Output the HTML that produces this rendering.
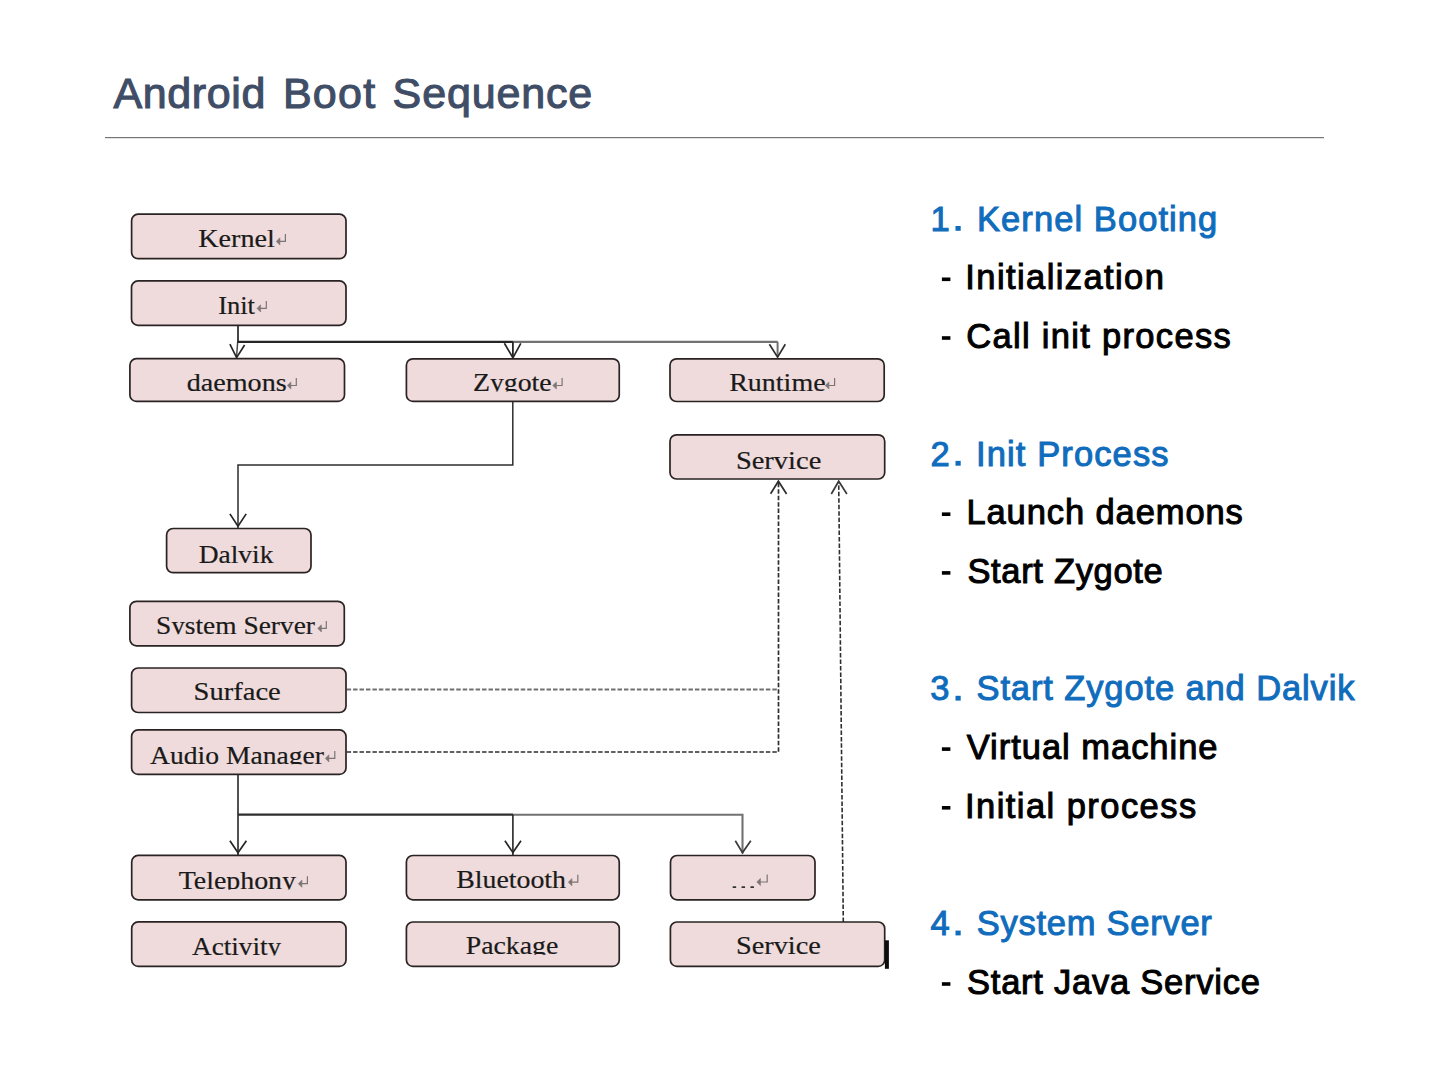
<!DOCTYPE html><html><head><meta charset="utf-8"><title>Android Boot Sequence</title>
<style>html,body{margin:0;padding:0;background:#fff;}body{width:1440px;height:1080px;overflow:hidden;}svg{display:block;}</style></head><body>
<svg width="1440" height="1080" viewBox="0 0 1440 1080">
<rect x="0" y="0" width="1440" height="1080" fill="#ffffff"/>
<text x="113.5" y="108.3" font-family="&quot;Liberation Sans&quot;, sans-serif" font-size="43" fill="#404D66" stroke="#404D66" stroke-width="1.1" textLength="151.8" lengthAdjust="spacing">Android</text>
<text x="282.9" y="108.3" font-family="&quot;Liberation Sans&quot;, sans-serif" font-size="43" fill="#404D66" stroke="#404D66" stroke-width="1.1" textLength="92.3" lengthAdjust="spacing">Boot</text>
<text x="392.6" y="108.3" font-family="&quot;Liberation Sans&quot;, sans-serif" font-size="43" fill="#404D66" stroke="#404D66" stroke-width="1.1" textLength="199.6" lengthAdjust="spacing">Sequence</text>
<rect x="105" y="137" width="1219" height="1.2" fill="#767676"/>
<defs>
<clipPath id="c_zygote"><rect x="0" y="0" width="1440" height="391.4"/></clipPath>
<clipPath id="c_sysserv"><rect x="0" y="0" width="1440" height="634.3"/></clipPath>
<clipPath id="c_audio"><rect x="0" y="0" width="1440" height="764.3"/></clipPath>
<clipPath id="c_tele"><rect x="0" y="0" width="1440" height="889.6"/></clipPath>
<clipPath id="c_activity"><rect x="0" y="0" width="1440" height="955.4"/></clipPath>
<clipPath id="c_package"><rect x="0" y="0" width="1440" height="954.8"/></clipPath>
</defs>
<path d="M238.0,325.3 L238.0,342.0" fill="none" stroke="#262626" stroke-width="1.7" stroke-linejoin="miter"/>
<path d="M237.7,342.0 L236.6,356.0" fill="none" stroke="#4a4a4a" stroke-width="1.5" stroke-linejoin="miter"/>
<path d="M237.2,341.9 L513.0,341.9" fill="none" stroke="#262626" stroke-width="2.3" stroke-linejoin="miter"/>
<path d="M513.0,341.9 L777.8,341.9" fill="none" stroke="#727272" stroke-width="2.2" stroke-linejoin="miter"/>
<path d="M512.9,341.9 L512.9,357.0" fill="none" stroke="#262626" stroke-width="1.8" stroke-linejoin="miter"/>
<path d="M777.6,341.9 L777.6,356.0" fill="none" stroke="#727272" stroke-width="2.0" stroke-linejoin="miter"/>
<path d="M229.9,344.2 L236.6,357.6 L244.6,345.0" fill="none" stroke="#262626" stroke-width="1.7" stroke-linejoin="miter"/>
<path d="M504.4,343.3 L512.9,357.8 L520.8,343.3" fill="none" stroke="#262626" stroke-width="1.7" stroke-linejoin="miter"/>
<path d="M769.4,344.2 L777.6,357.2 L785.3,344.2" fill="none" stroke="#303030" stroke-width="1.7" stroke-linejoin="miter"/>
<path d="M512.8,401.4 L512.8,465.0 L238.0,465.0 L238.0,528.5" fill="none" stroke="#2e2e2e" stroke-width="1.5" stroke-linejoin="miter"/>
<path d="M229.9,513.9 L238.0,526.2 L246.2,513.9" fill="none" stroke="#262626" stroke-width="1.7" stroke-linejoin="miter"/>
<path d="M238.0,774.4 L238.0,855.4" fill="none" stroke="#262626" stroke-width="1.6" stroke-linejoin="miter"/>
<path d="M238.0,814.7 L513.0,814.7" fill="none" stroke="#2e2e2e" stroke-width="2.3" stroke-linejoin="miter"/>
<path d="M513.0,814.7 L742.5,814.7 L742.5,853.5" fill="none" stroke="#727272" stroke-width="2.1" stroke-linejoin="miter"/>
<path d="M512.9,814.7 L512.9,855.5" fill="none" stroke="#262626" stroke-width="1.6" stroke-linejoin="miter"/>
<path d="M229.9,840.7 L238.0,852.8 L246.4,840.7" fill="none" stroke="#262626" stroke-width="1.7" stroke-linejoin="miter"/>
<path d="M504.9,840.7 L512.9,852.6 L521.0,840.7" fill="none" stroke="#262626" stroke-width="1.7" stroke-linejoin="miter"/>
<path d="M735.3,840.8 L742.5,852.6 L750.8,840.8" fill="none" stroke="#3a3a3a" stroke-width="1.7" stroke-linejoin="miter"/>
<path d="M346.6,689.5 L778.5,689.5" fill="none" stroke="#707070" stroke-width="1.9" stroke-linejoin="miter" stroke-dasharray="4.5 1.95"/>
<path d="M346.6,752.0 L778.5,752.0 L778.5,482.0" fill="none" stroke="#2e2e2e" stroke-width="1.7" stroke-linejoin="miter" stroke-dasharray="4.5 1.95"/>
<path d="M843.3,922.0 L838.7,482.0" fill="none" stroke="#2e2e2e" stroke-width="1.6" stroke-linejoin="miter" stroke-dasharray="4.5 1.95"/>
<path d="M770.6,493.8 L778.4,481.2 L786.6,494.0" fill="none" stroke="#2e2e2e" stroke-width="1.7" stroke-linejoin="miter"/>
<path d="M831.3,494.0 L838.7,481.2 L846.9,494.0" fill="none" stroke="#3a3a3a" stroke-width="1.7" stroke-linejoin="miter"/>
<rect x="131.60" y="214.20" width="214.40" height="44.50" rx="6.5" ry="6.5" fill="#EFDBDB" stroke="#2a2323" stroke-width="1.7"/>
<rect x="131.50" y="280.90" width="214.50" height="44.40" rx="6.5" ry="6.5" fill="#EFDBDB" stroke="#2a2323" stroke-width="1.7"/>
<rect x="129.90" y="358.70" width="214.60" height="42.70" rx="6.5" ry="6.5" fill="#EFDBDB" stroke="#2a2323" stroke-width="1.7"/>
<rect x="406.40" y="358.80" width="212.85" height="42.60" rx="6.5" ry="6.5" fill="#EFDBDB" stroke="#2a2323" stroke-width="1.7"/>
<rect x="670.00" y="358.80" width="214.20" height="42.70" rx="6.5" ry="6.5" fill="#EFDBDB" stroke="#2a2323" stroke-width="1.7"/>
<rect x="670.00" y="434.80" width="214.70" height="44.20" rx="6.5" ry="6.5" fill="#EFDBDB" stroke="#2a2323" stroke-width="1.7"/>
<rect x="166.60" y="528.50" width="144.40" height="44.20" rx="6.5" ry="6.5" fill="#EFDBDB" stroke="#2a2323" stroke-width="1.7"/>
<rect x="129.90" y="601.30" width="214.40" height="44.50" rx="6.5" ry="6.5" fill="#EFDBDB" stroke="#2a2323" stroke-width="1.7"/>
<rect x="131.60" y="668.00" width="214.40" height="44.50" rx="6.5" ry="6.5" fill="#EFDBDB" stroke="#2a2323" stroke-width="1.7"/>
<rect x="131.60" y="729.90" width="214.40" height="44.50" rx="6.5" ry="6.5" fill="#EFDBDB" stroke="#2a2323" stroke-width="1.7"/>
<rect x="131.70" y="855.40" width="214.30" height="44.40" rx="6.5" ry="6.5" fill="#EFDBDB" stroke="#2a2323" stroke-width="1.7"/>
<rect x="406.40" y="855.50" width="212.85" height="44.30" rx="6.5" ry="6.5" fill="#EFDBDB" stroke="#2a2323" stroke-width="1.7"/>
<rect x="670.50" y="855.50" width="144.50" height="44.30" rx="6.5" ry="6.5" fill="#EFDBDB" stroke="#2a2323" stroke-width="1.7"/>
<rect x="131.70" y="921.90" width="214.30" height="44.50" rx="6.5" ry="6.5" fill="#EFDBDB" stroke="#2a2323" stroke-width="1.7"/>
<rect x="406.40" y="922.00" width="212.85" height="44.40" rx="6.5" ry="6.5" fill="#EFDBDB" stroke="#2a2323" stroke-width="1.7"/>
<rect x="670.40" y="922.00" width="214.30" height="44.40" rx="6.5" ry="6.5" fill="#EFDBDB" stroke="#2a2323" stroke-width="1.7"/>
<text x="198.2" y="246.7" font-family="&quot;Liberation Serif&quot;, serif" font-size="25.5" fill="#1a1a1a" stroke="#1a1a1a" stroke-width="0.2" textLength="76.7" lengthAdjust="spacingAndGlyphs">Kernel</text>
<path d="M285.4,233.9 V241.4 H278.3" fill="none" stroke="#7d7575" stroke-width="1.2"/><path d="M279.9,237.8 L276.3,241.4 L279.9,245.0 Z" fill="#7d7575" stroke="#7d7575" stroke-width="0.6" stroke-linejoin="round"/>
<text x="218.2" y="313.7" font-family="&quot;Liberation Serif&quot;, serif" font-size="25.5" fill="#1a1a1a" stroke="#1a1a1a" stroke-width="0.2" textLength="36.8" lengthAdjust="spacingAndGlyphs">Init</text>
<path d="M266.3,300.9 V308.4 H259.0" fill="none" stroke="#7d7575" stroke-width="1.2"/><path d="M260.6,304.8 L257.0,308.4 L260.6,312.0 Z" fill="#7d7575" stroke="#7d7575" stroke-width="0.6" stroke-linejoin="round"/>
<text x="186.7" y="390.8" font-family="&quot;Liberation Serif&quot;, serif" font-size="25.5" fill="#1a1a1a" stroke="#1a1a1a" stroke-width="0.2" textLength="100.0" lengthAdjust="spacingAndGlyphs">daemons</text>
<path d="M296.3,378.0 V385.5 H289.3" fill="none" stroke="#7d7575" stroke-width="1.2"/><path d="M290.9,381.9 L287.3,385.5 L290.9,389.1 Z" fill="#7d7575" stroke="#7d7575" stroke-width="0.6" stroke-linejoin="round"/>
<text x="472.9" y="390.8" font-family="&quot;Liberation Serif&quot;, serif" font-size="25.5" fill="#1a1a1a" stroke="#1a1a1a" stroke-width="0.2" textLength="78.8" lengthAdjust="spacingAndGlyphs" clip-path="url(#c_zygote)">Zygote</text>
<path d="M562.1,378.0 V385.5 H554.8" fill="none" stroke="#7d7575" stroke-width="1.2"/><path d="M556.4,381.9 L552.8,385.5 L556.4,389.1 Z" fill="#7d7575" stroke="#7d7575" stroke-width="0.6" stroke-linejoin="round"/>
<text x="729.2" y="390.8" font-family="&quot;Liberation Serif&quot;, serif" font-size="25.5" fill="#1a1a1a" stroke="#1a1a1a" stroke-width="0.2" textLength="96.4" lengthAdjust="spacingAndGlyphs">Runtime</text>
<path d="M834.6,378.0 V385.5 H827.3" fill="none" stroke="#7d7575" stroke-width="1.2"/><path d="M828.9,381.9 L825.3,385.5 L828.9,389.1 Z" fill="#7d7575" stroke="#7d7575" stroke-width="0.6" stroke-linejoin="round"/>
<text x="735.9" y="468.7" font-family="&quot;Liberation Serif&quot;, serif" font-size="25.5" fill="#1a1a1a" stroke="#1a1a1a" stroke-width="0.2" textLength="85.4" lengthAdjust="spacingAndGlyphs">Service</text>
<text x="198.7" y="562.8" font-family="&quot;Liberation Serif&quot;, serif" font-size="25.5" fill="#1a1a1a" stroke="#1a1a1a" stroke-width="0.2" textLength="74.7" lengthAdjust="spacingAndGlyphs">Dalvik</text>
<text x="155.9" y="633.7" font-family="&quot;Liberation Serif&quot;, serif" font-size="25.5" fill="#1a1a1a" stroke="#1a1a1a" stroke-width="0.2" textLength="159.1" lengthAdjust="spacingAndGlyphs" clip-path="url(#c_sysserv)">System Server</text>
<path d="M326.3,620.9 V628.4 H319.8" fill="none" stroke="#7d7575" stroke-width="1.2"/><path d="M321.4,624.8 L317.8,628.4 L321.4,632.0 Z" fill="#7d7575" stroke="#7d7575" stroke-width="0.6" stroke-linejoin="round"/>
<text x="193.6" y="700.3" font-family="&quot;Liberation Serif&quot;, serif" font-size="25.5" fill="#1a1a1a" stroke="#1a1a1a" stroke-width="0.2" textLength="87.2" lengthAdjust="spacingAndGlyphs">Surface</text>
<text x="150.0" y="763.7" font-family="&quot;Liberation Serif&quot;, serif" font-size="25.5" fill="#1a1a1a" stroke="#1a1a1a" stroke-width="0.2" textLength="174.0" lengthAdjust="spacingAndGlyphs" clip-path="url(#c_audio)">Audio Manager</text>
<path d="M334.8,750.9 V758.4 H327.3" fill="none" stroke="#7d7575" stroke-width="1.2"/><path d="M328.9,754.8 L325.3,758.4 L328.9,762.0 Z" fill="#7d7575" stroke="#7d7575" stroke-width="0.6" stroke-linejoin="round"/>
<text x="178.7" y="889.0" font-family="&quot;Liberation Serif&quot;, serif" font-size="25.5" fill="#1a1a1a" stroke="#1a1a1a" stroke-width="0.2" textLength="117.3" lengthAdjust="spacingAndGlyphs" clip-path="url(#c_tele)">Telephony</text>
<path d="M307.4,876.2 V883.7 H300.3" fill="none" stroke="#7d7575" stroke-width="1.2"/><path d="M301.9,880.1 L298.3,883.7 L301.9,887.3 Z" fill="#7d7575" stroke="#7d7575" stroke-width="0.6" stroke-linejoin="round"/>
<text x="456.2" y="887.5" font-family="&quot;Liberation Serif&quot;, serif" font-size="25.5" fill="#1a1a1a" stroke="#1a1a1a" stroke-width="0.2" textLength="109.8" lengthAdjust="spacingAndGlyphs">Bluetooth</text>
<path d="M577.8,874.7 V882.2 H570.3" fill="none" stroke="#7d7575" stroke-width="1.2"/><path d="M571.9,878.6 L568.3,882.2 L571.9,885.8 Z" fill="#7d7575" stroke="#7d7575" stroke-width="0.6" stroke-linejoin="round"/>
<text x="192.0" y="954.8" font-family="&quot;Liberation Serif&quot;, serif" font-size="25.5" fill="#1a1a1a" stroke="#1a1a1a" stroke-width="0.2" textLength="89.1" lengthAdjust="spacingAndGlyphs" clip-path="url(#c_activity)">Activity</text>
<text x="465.7" y="954.2" font-family="&quot;Liberation Serif&quot;, serif" font-size="25.5" fill="#1a1a1a" stroke="#1a1a1a" stroke-width="0.2" textLength="92.6" lengthAdjust="spacingAndGlyphs" clip-path="url(#c_package)">Package</text>
<text x="735.9" y="954.2" font-family="&quot;Liberation Serif&quot;, serif" font-size="25.5" fill="#1a1a1a" stroke="#1a1a1a" stroke-width="0.2" textLength="84.9" lengthAdjust="spacingAndGlyphs">Service</text>
<g fill="#333"><rect x="732.6" y="886.2" width="3.6" height="1.9" rx="0.6"/><rect x="741.5" y="886.2" width="3.6" height="1.9" rx="0.6"/><rect x="750.4" y="886.2" width="3.6" height="1.9" rx="0.6"/></g>
<path d="M767.2,874.5 V882.0 H758.8" fill="none" stroke="#7d7575" stroke-width="1.2"/><path d="M760.4,878.4 L756.8,882.0 L760.4,885.6 Z" fill="#7d7575" stroke="#7d7575" stroke-width="0.6" stroke-linejoin="round"/>
<rect x="884.9" y="940.3" width="4.0" height="28.5" fill="#0d0d0d"/>
<text x="930.4" y="230.6" font-family="&quot;Liberation Sans&quot;, sans-serif" font-size="34.5" fill="#106CBC" stroke="#106CBC" stroke-width="1.0">1</text>
<rect x="955.5" y="226.0" width="5.2" height="4.8" fill="#106CBC"/>
<text x="977.0" y="230.6" font-family="&quot;Liberation Sans&quot;, sans-serif" font-size="34.5" fill="#106CBC" stroke="#106CBC" stroke-width="1.0" textLength="240.3" lengthAdjust="spacing">Kernel Booting</text>
<text x="930.5" y="465.5" font-family="&quot;Liberation Sans&quot;, sans-serif" font-size="34.5" fill="#106CBC" stroke="#106CBC" stroke-width="1.0">2</text>
<rect x="955.5" y="460.9" width="5.2" height="4.8" fill="#106CBC"/>
<text x="976.0" y="465.5" font-family="&quot;Liberation Sans&quot;, sans-serif" font-size="34.5" fill="#106CBC" stroke="#106CBC" stroke-width="1.0" textLength="192.5" lengthAdjust="spacing">Init Process</text>
<text x="930.2" y="700.4" font-family="&quot;Liberation Sans&quot;, sans-serif" font-size="34.5" fill="#106CBC" stroke="#106CBC" stroke-width="1.0">3</text>
<rect x="955.5" y="695.8" width="5.2" height="4.8" fill="#106CBC"/>
<text x="976.5" y="700.4" font-family="&quot;Liberation Sans&quot;, sans-serif" font-size="34.5" fill="#106CBC" stroke="#106CBC" stroke-width="1.0" textLength="378.0" lengthAdjust="spacing">Start Zygote and Dalvik</text>
<text x="930.6" y="935.2" font-family="&quot;Liberation Sans&quot;, sans-serif" font-size="34.5" fill="#106CBC" stroke="#106CBC" stroke-width="1.0">4</text>
<rect x="955.5" y="930.6" width="5.2" height="4.8" fill="#106CBC"/>
<text x="976.8" y="935.2" font-family="&quot;Liberation Sans&quot;, sans-serif" font-size="34.5" fill="#106CBC" stroke="#106CBC" stroke-width="1.0" textLength="235.0" lengthAdjust="spacing">System Server</text>
<rect x="941.9" y="277.5" width="8.5" height="3.6" fill="#000"/>
<text x="965.3" y="289.3" font-family="&quot;Liberation Sans&quot;, sans-serif" font-size="34.5" fill="#000" stroke="#000" stroke-width="1.0" textLength="198.6" lengthAdjust="spacing">Initialization</text>
<rect x="941.9" y="336.2" width="8.5" height="3.6" fill="#000"/>
<text x="966.2" y="348.0" font-family="&quot;Liberation Sans&quot;, sans-serif" font-size="34.5" fill="#000" stroke="#000" stroke-width="1.0" textLength="264.5" lengthAdjust="spacing">Call init process</text>
<rect x="941.9" y="512.4" width="8.5" height="3.6" fill="#000"/>
<text x="966.4" y="524.2" font-family="&quot;Liberation Sans&quot;, sans-serif" font-size="34.5" fill="#000" stroke="#000" stroke-width="1.0" textLength="276.4" lengthAdjust="spacing">Launch daemons</text>
<rect x="941.9" y="571.1" width="8.5" height="3.6" fill="#000"/>
<text x="967.4" y="582.9" font-family="&quot;Liberation Sans&quot;, sans-serif" font-size="34.5" fill="#000" stroke="#000" stroke-width="1.0" textLength="195.3" lengthAdjust="spacing">Start Zygote</text>
<rect x="941.9" y="747.3" width="8.5" height="3.6" fill="#000"/>
<text x="966.7" y="759.1" font-family="&quot;Liberation Sans&quot;, sans-serif" font-size="34.5" fill="#000" stroke="#000" stroke-width="1.0" textLength="250.8" lengthAdjust="spacing">Virtual machine</text>
<rect x="941.9" y="806.0" width="8.5" height="3.6" fill="#000"/>
<text x="965.0" y="817.8" font-family="&quot;Liberation Sans&quot;, sans-serif" font-size="34.5" fill="#000" stroke="#000" stroke-width="1.0" textLength="231.2" lengthAdjust="spacing">Initial process</text>
<rect x="941.9" y="982.2" width="8.5" height="3.6" fill="#000"/>
<text x="967.0" y="994.0" font-family="&quot;Liberation Sans&quot;, sans-serif" font-size="34.5" fill="#000" stroke="#000" stroke-width="1.0" textLength="292.9" lengthAdjust="spacing">Start Java Service</text>
</svg></body></html>
